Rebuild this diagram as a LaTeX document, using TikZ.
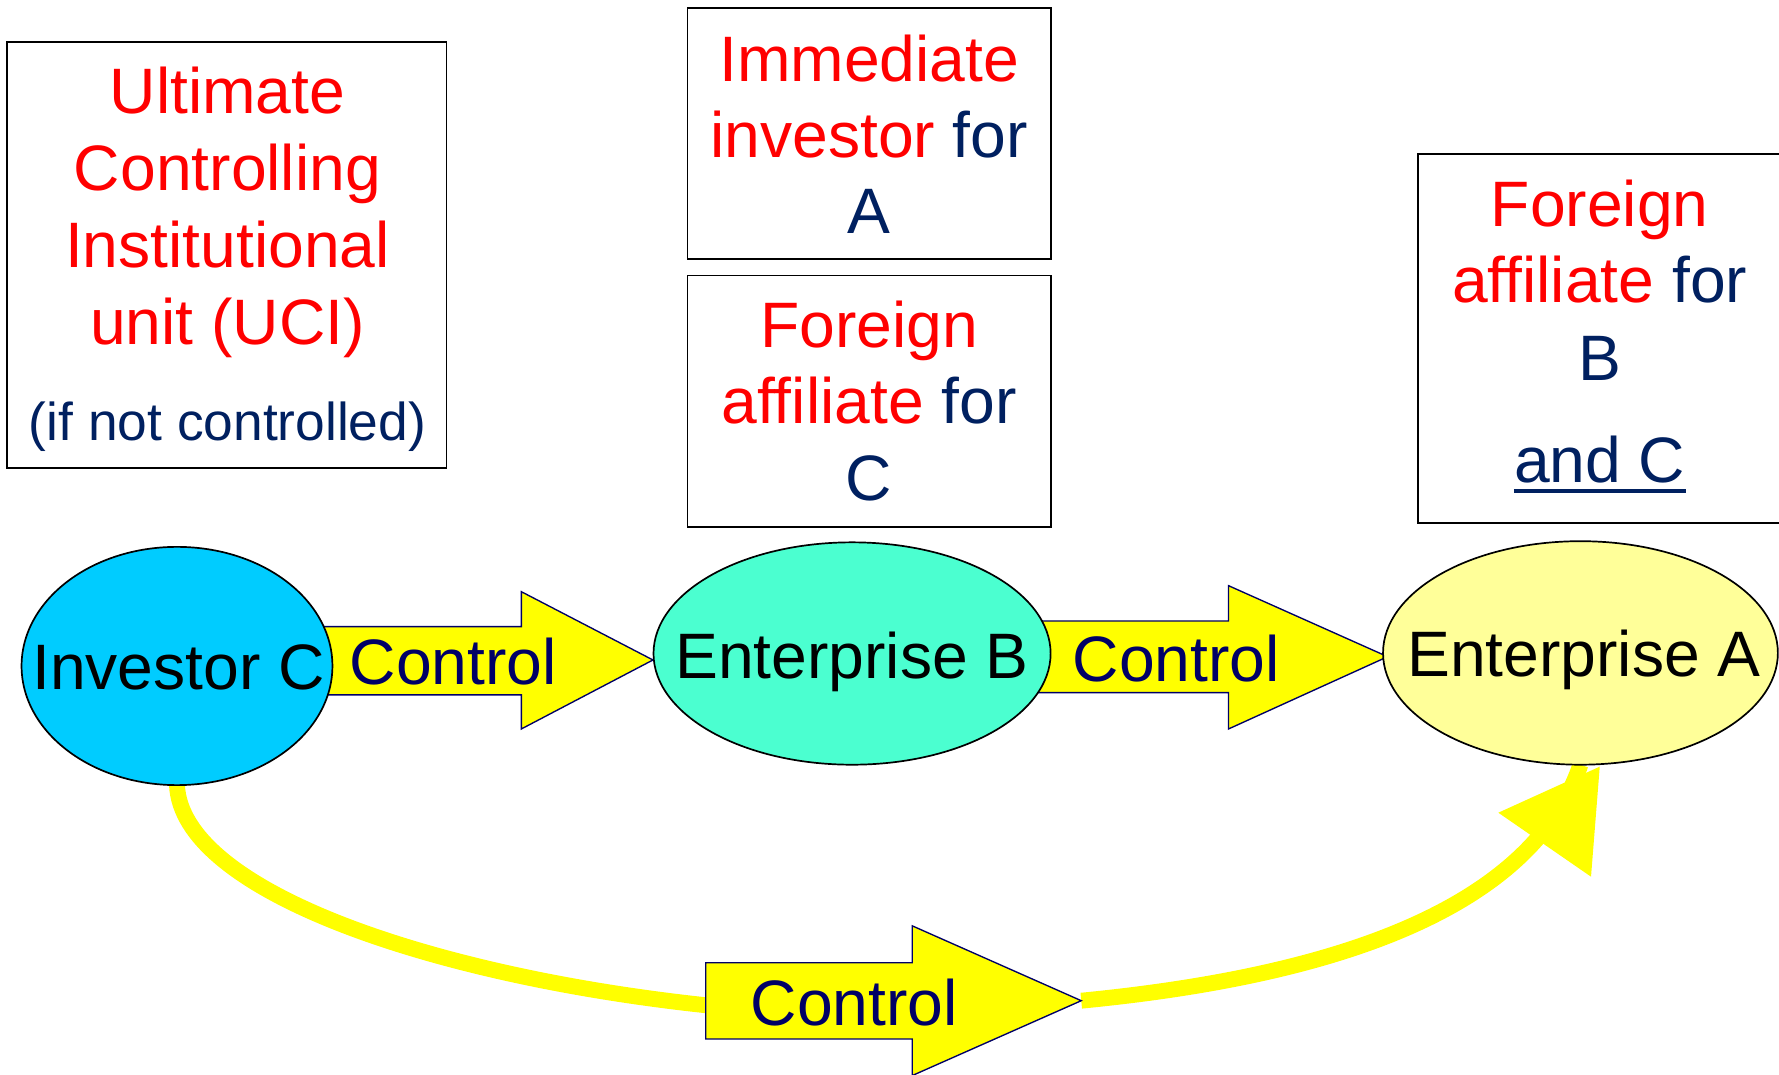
\documentclass[tikz,border=0pt]{standalone}
\usepackage{fontspec}
\setmainfont{Liberation Sans}
\usetikzlibrary{shapes.geometric,calc}
\definecolor{navy}{HTML}{002060}
\definecolor{ctrlblue}{HTML}{000066}
\definecolor{cyanC}{HTML}{00CCFF}
\definecolor{turqB}{HTML}{4BFFD0}
\definecolor{paleA}{HTML}{FFFF99}
\definecolor{arrowyellow}{HTML}{FFFF00}
\begin{document}
\begin{tikzpicture}[x=1pt,y=-1pt,
  txt/.style={anchor=base, inner sep=0pt, font=\fontsize{56.6}{66}\selectfont},
  smalltxt/.style={anchor=base, inner sep=0pt, font=\fontsize{47}{55}\selectfont, text=navy},
  infobox/.style={draw=black, line width=1.6pt, inner sep=0pt, outer sep=0pt, anchor=north west},
  ent/.style={ellipse, draw=black, line width=1.5pt, inner sep=0pt},
  blockarrow/.style={fill=arrowyellow, draw=ctrlblue, line width=1.2pt, line join=miter},
  ctrltext/.style={txt, text=ctrlblue},
  curve/.style={draw=arrowyellow, line width=14pt}
]
\useasboundingbox (0,0) rectangle (1568,947);

% named ends of the bottom block arrow
\coordinate (s3) at (622,886);
\coordinate (e3) at (953,882);

% entity ellipse contact points
\coordinate (Cs) at (156,692);
\coordinate (As) at (1393,674);

% curved control connector
\draw[curve] (Cs) .. controls (160,785) and (380,860) .. (s3);
\draw[curve] (e3) .. controls (1180,860) and (1350,800) .. (As);
\fill[arrowyellow] (1320.6,716.3) -- (1402.3,772.7) -- (1410,675.7) -- cycle;

% block arrows
\draw[blockarrow] (270,552.3) -- (459.5,552.3) -- (459.5,521.5) -- (575.5,581.7)
   -- (459.5,642.5) -- (459.5,612.5) -- (270,612.5) -- cycle;
\draw[blockarrow] (900,547.3) -- (1082.8,547.3) -- (1082.8,516.2) -- (1223,578.8)
   -- (1082.8,642.5) -- (1082.8,610.5) -- (900,610.5) -- cycle;
\draw[blockarrow] (s3 |- 0,848.5) -- (804,848.5) -- (804,816) -- (e3)
   -- (804,948) -- (804,915.7) -- (s3 |- 0,915.7) -- cycle;

% entities
\node[ent, fill=cyanC, minimum width=274, minimum height=210] (C) at (156,587) {};
\node[ent, fill=turqB, minimum width=350, minimum height=196] (B) at (751,576) {};
\node[ent, fill=paleA, minimum width=348, minimum height=197] (A) at (1393,575.5) {};

\node[txt] (tC) at (157.4,608) {Investor C};
\node[txt] (tB) at (751,598) {Enterprise B};
\node[txt] (tA) at (1396,596.4) {Enterprise A};

\node[ctrltext] (k1) at (399.4,603.7) {Control};
\node[ctrltext] (k2) at (1036.8,600.8) {Control};
\node[ctrltext] (k3) at (753,904) {Control};

% info boxes
\node[infobox, minimum width=387, minimum height=375.5] (box1) at (6.5,36.7) {};
\node[txt, text=red] (u1) at (200.5,100) {Ultimate};
\node[txt, text=red] (u2) at (200.5,167.5) {Controlling};
\node[txt, text=red] (u3) at (200.5,235.6) {Institutional};
\node[txt, text=red] (u4) at (200.5,303.2) {unit (UCI)};
\node[smalltxt] (u5) at (200.5,388.4) {(if not controlled)};

\node[infobox, minimum width=320, minimum height=221.8] (box2) at (606,6.7) {};
\node[txt, text=red] (i1) at (766,71.9) {Immediate};
\node[txt] (i2) at (766,139) {\textcolor{red}{investor} \textcolor{navy}{for}};
\node[txt, text=navy] (i3) at (766,205.5) {A};

\node[infobox, minimum width=320, minimum height=221.6] (box3) at (606,242.8) {};
\node[txt, text=red] (f1) at (766,306) {Foreign};
\node[txt] (f2) at (766,373.3) {\textcolor{red}{affiliate} \textcolor{navy}{for}};
\node[txt, text=navy] (f3) at (766,440.7) {C};

\node[infobox, minimum width=340, minimum height=325.3] (box4) at (1250,135.7) {};
\node[txt, text=red] (g1) at (1410,200) {Foreign};
\node[txt] (g2) at (1410,267) {\textcolor{red}{affiliate} \textcolor{navy}{for}};
\node[txt, text=navy] (g3) at (1410,335) {B};
\node[txt, text=navy] (g4) at (1410,425.5) {and C};
\draw[navy, line width=3.5pt] ($(g4.base west)+(0,7.5)$) -- ($(g4.base east)+(0,7.5)$);
\end{tikzpicture}
\end{document}
